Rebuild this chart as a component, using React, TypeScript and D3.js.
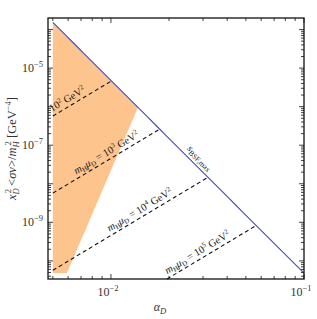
import React from "react";
import * as d3 from "d3";

const xDomain = [0.00472, 0.1];
const yDomain = [Math.pow(10, -10.47), Math.pow(10, -3.7)];
const alphaStart = 0.005;
const alphaEnd = 0.1;
// s_BSF,max line:  log y = bsfLogC - 5 log alpha
const bsfLogC = -15.32;
const bsfPower = -5;
// dashed lines: log y = dashLogA - 2 log(mμ) + 3 log alpha
const dashLogA = 4.66;
const mMuValues = [2, 3, 4, 5];
const mMuLabelAlpha = [0.0062, 0.0099, 0.0147, 0.0293];
// orange excluded region boundary (alpha, log10 y)
const regionAlpha = [0.005, 0.0138, 0.00591, 0.005];
const regionLogY = [NaN, NaN, -10.32, -10.32];
const yTickLabels = [-5, -7, -9];
const xTickLabels = [-2, -1];

const W = 317, H = 319;
const L = 48, R = 304, T = 18, B = 279;

export default function App() {
  const x = d3.scaleLog().domain(xDomain).range([L, R]);
  const y = d3.scaleLog().domain(yDomain).range([B, T]);
  const bsf = (a: number) => Math.pow(10, bsfLogC + bsfPower * Math.log10(a));
  const dash = (a: number, e: number) => Math.pow(10, dashLogA - 2 * e + 3 * Math.log10(a));
  const font = "'Liberation Serif', 'DejaVu Serif', serif";

  const bsfPts: [number, number][] = [];
  const n = 40;
  for (let i = 0; i <= n; i++) {
    const a = Math.exp(Math.log(alphaStart) + (Math.log(alphaEnd) - Math.log(alphaStart)) * i / n);
    bsfPts.push([x(a), y(bsf(a))]);
  }
  const line = d3.line();

  const regionPts: [number, number][] = [];
  for (let i = 0; i <= 20; i++) {
    const a = Math.exp(Math.log(regionAlpha[0]) + (Math.log(regionAlpha[1]) - Math.log(regionAlpha[0])) * i / 20);
    regionPts.push([x(a), y(bsf(a))]);
  }
  regionPts.push([x(regionAlpha[2]), y(Math.pow(10, regionLogY[2]))]);
  regionPts.push([x(regionAlpha[3]), y(Math.pow(10, regionLogY[3]))]);

  const dashLines = mMuValues.map((e) => {
    const aMinY = Math.pow(10, (Math.log10(yDomain[0]) - dashLogA + 2 * e) / 3);
    const a0 = Math.max(alphaStart, aMinY);
    const Lx = (bsfLogC - dashLogA + 2 * e) / 8;
    const a1 = Math.pow(10, Lx);
    return { e, p0: [x(a0), y(dash(a0, e))], p1: [x(a1), y(dash(a1, e))] };
  });

  const slopeAngle = -Math.atan((3 * (y(1e-6) - y(1e-5))) / (x(0.1) - x(0.01))) * 180 / Math.PI;
  const bsfAngle = Math.atan((5 * (y(1e-6) - y(1e-5))) / (x(0.1) - x(0.01))) * 180 / Math.PI;

  const xTicks: { v: number; major: boolean }[] = [];
  for (let d = -3; d <= -1; d++) {
    for (let m = 1; m <= 9; m++) {
      const v = m * Math.pow(10, d);
      if (v >= xDomain[0] * 0.999 && v <= xDomain[1] * 1.001) xTicks.push({ v, major: m === 1 });
    }
  }
  const yTicks: { v: number; major: boolean }[] = [];
  for (let d = -11; d <= -4; d++) {
    for (let m = 1; m <= 9; m++) {
      const v = m * Math.pow(10, d);
      if (v >= yDomain[0] && v <= yDomain[1]) yTicks.push({ v, major: m === 1 });
    }
  }

  return (
    <svg width={W} height={H} style={{ position: "absolute", left: 0, top: 0 }}>
      <rect x={0} y={0} width={W} height={H} fill="white" />
      <path d={line(regionPts.concat([regionPts[0]])) || ""} fill="#fdc58d" stroke="none" />
      {dashLines.map((d) => (
        <line key={d.e} x1={d.p0[0]} y1={d.p0[1]} x2={d.p1[0]} y2={d.p1[1]} stroke="#111" strokeWidth={1.1} strokeDasharray="4,3" />
      ))}
      <path d={line(bsfPts) || ""} fill="none" stroke="#4a4ab4" strokeWidth={1.1} />
      {dashLines.map((d, i) => {
        const a = mMuLabelAlpha[i];
        const px = x(a);
        const py = y(dash(a, d.e));
        return (
          <g key={"l" + d.e} transform={`translate(${px},${py}) rotate(${slopeAngle})`}>
            <text y={-4} textAnchor="middle" fontFamily={font} fontSize={10.5} fill="#222">
              {d.e === 2 ? (
                <>
                  <tspan>10</tspan>
                  <tspan dy={-4} fontSize={7}>{d.e}</tspan>
                  <tspan dy={4}> GeV</tspan>
                  <tspan dy={-4} fontSize={7}>2</tspan>
                </>
              ) : (
                <>
                  <tspan fontStyle="italic">m</tspan>
                  <tspan dy={2} fontSize={7}>H</tspan>
                  <tspan dy={-2} fontStyle="italic">μ</tspan>
                  <tspan dy={2} fontSize={7}>D</tspan>
                  <tspan dy={-2}> = 10</tspan>
                  <tspan dy={-4} fontSize={7}>{d.e}</tspan>
                  <tspan dy={4}> GeV</tspan>
                  <tspan dy={-4} fontSize={7}>2</tspan>
                </>
              )}
            </text>
          </g>
        );
      })}
      <g transform={`translate(${x(0.027)},${y(bsf(0.027))}) rotate(${bsfAngle})`}>
        <text y={-5} textAnchor="middle" fontFamily={font} fontSize={10} fill="#222">
          <tspan fontStyle="italic">s</tspan>
          <tspan dy={2} fontSize={7.5}>BSF,max</tspan>
        </text>
      </g>
      {xTicks.map((t, i) => (
        <g key={"xt" + i}>
          <line x1={x(t.v)} x2={x(t.v)} y1={B} y2={B - (t.major ? 5 : 3)} stroke="#111" strokeWidth={0.8} />
          <line x1={x(t.v)} x2={x(t.v)} y1={T} y2={T + (t.major ? 5 : 3)} stroke="#111" strokeWidth={0.8} />
        </g>
      ))}
      {yTicks.map((t, i) => (
        <g key={"yt" + i}>
          <line x1={L} x2={L + (t.major ? 5 : 3)} y1={y(t.v)} y2={y(t.v)} stroke="#111" strokeWidth={0.8} />
          <line x1={R} x2={R - (t.major ? 5 : 3)} y1={y(t.v)} y2={y(t.v)} stroke="#111" strokeWidth={0.8} />
        </g>
      ))}
      <rect x={L} y={T} width={R - L} height={B - T} fill="none" stroke="#111" strokeWidth={1.3} />
      {yTickLabels.map((e) => (
        <text key={"yl" + e} x={L - 5} y={y(Math.pow(10, e)) + 4} textAnchor="end" fontFamily={font} fontSize={12} fill="#333">
          10<tspan dy={-5} fontSize={8.5}>{"\u2212" + (-e)}</tspan>
        </text>
      ))}
      {xTickLabels.map((e) => (
        <text key={"xl" + e} x={x(Math.pow(10, e)) - 3} y={B + 17} textAnchor="middle" fontFamily={font} fontSize={12} fill="#333">
          10<tspan dy={-5} fontSize={8.5}>{"\u2212" + (-e)}</tspan>
        </text>
      ))}
      <text x={160} y={311} textAnchor="middle" fontFamily={font} fontSize={12} fill="#333">
        <tspan fontStyle="italic">α</tspan>
        <tspan dy={3} fontSize={8.5} fontStyle="italic">D</tspan>
      </text>
      <g transform={`translate(16,${(T + B) / 2}) rotate(-90)`}>
        <text textAnchor="middle" fontFamily={font} fontSize={12.5} fill="#333">
          <tspan fontStyle="italic">x</tspan>
          <tspan dy={3} fontSize={8.5} fontStyle="italic">D</tspan>
          <tspan dy={-8} dx={-5} fontSize={8.5}>2</tspan>
          <tspan dy={5}> &lt;</tspan>
          <tspan fontStyle="italic">σv</tspan>
          <tspan>&gt;/</tspan>
          <tspan fontStyle="italic">m</tspan>
          <tspan dy={3} fontSize={8.5} fontStyle="italic">H</tspan>
          <tspan dy={-8} dx={-4} fontSize={8.5}>2</tspan>
          <tspan dy={5}>{"  [GeV"}</tspan>
          <tspan dy={-5} fontSize={8.5}>{"\u22124"}</tspan>
          <tspan dy={5}>]</tspan>
        </text>
      </g>
    </svg>
  );
}
